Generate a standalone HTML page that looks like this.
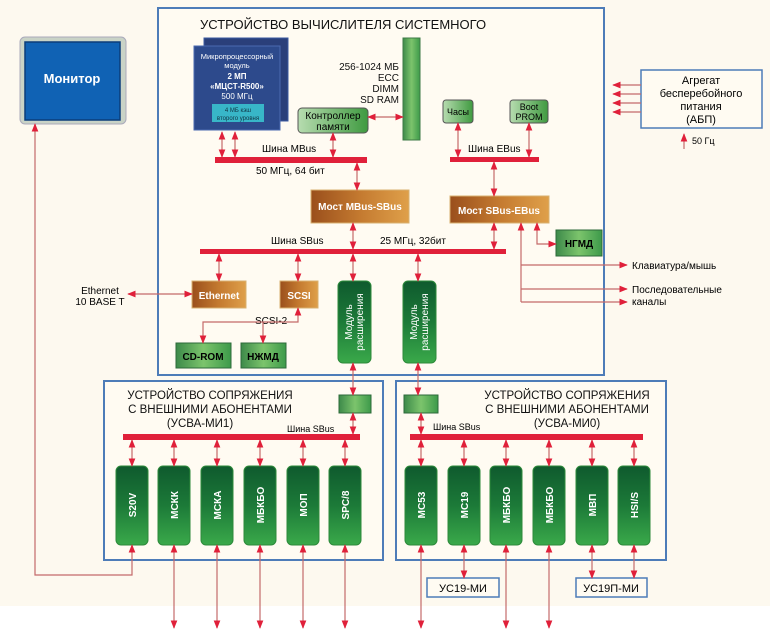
<!DOCTYPE html>
<html><head><meta charset="utf-8"><style>
html,body{margin:0;padding:0;background:#fdf9ef;}
svg{display:block;font-family:"Liberation Sans","DejaVu Sans",sans-serif;}
</style></head><body>
<svg width="770" height="630" viewBox="0 0 770 630" xmlns="http://www.w3.org/2000/svg">
<defs>
<marker id="a" viewBox="0 0 10 10" refX="9" refY="5" markerWidth="7" markerHeight="7" orient="auto-start-reverse"><path d="M0,1 L10,5 L0,9 Z" fill="#e0203a"/></marker>
<linearGradient id="g" x1="0" y1="0" x2="0" y2="1"><stop offset="0" stop-color="#0f5a2e"/><stop offset="0.5" stop-color="#1c7a38"/><stop offset="1" stop-color="#3aa94a"/></linearGradient>
<linearGradient id="lg" x1="0" y1="0" x2="1" y2="0"><stop offset="0" stop-color="#3d8a4a"/><stop offset="0.5" stop-color="#7cc46c"/><stop offset="1" stop-color="#3d9a4a"/></linearGradient>
<linearGradient id="lg2" x1="0" y1="0" x2="1" y2="0"><stop offset="0" stop-color="#b7dcb0"/><stop offset="1" stop-color="#3f9a40"/></linearGradient>
<linearGradient id="br" x1="0" y1="0" x2="1" y2="0"><stop offset="0" stop-color="#9a4f1c"/><stop offset="0.5" stop-color="#c47a30"/><stop offset="1" stop-color="#dfa04a"/></linearGradient>
</defs>
<rect x="0" y="606" width="770" height="24" fill="#ffffff"/>
<rect x="158" y="8" width="446" height="367" fill="#fffbf2" stroke="#4d7cb8" stroke-width="2"/>
<rect x="104" y="381" width="279" height="179" fill="#fffbf2" stroke="#4d7cb8" stroke-width="2"/>
<rect x="396" y="381" width="270" height="179" fill="#fffbf2" stroke="#4d7cb8" stroke-width="2"/>
<!-- monitor -->
<rect x="20" y="37" width="106" height="87" rx="5" fill="#c9d3c6" stroke="#aab"/>
<rect x="25" y="42" width="95" height="78" fill="#1062b4" stroke="#0a3d7a" stroke-width="1.5"/>
<text x="72" y="83" fill="#fff" font-size="13" font-weight="bold" text-anchor="middle">Монитор</text>
<text x="200" y="29" font-size="13" fill="#111">УСТРОЙСТВО ВЫЧИСЛИТЕЛЯ СИСТЕМНОГО</text>
<!-- CPU -->
<rect x="204" y="38" width="84" height="83" fill="#2a3f7a" stroke="#3b5aa0"/>
<rect x="194" y="46" width="86" height="84" fill="#2d4a8c" stroke="#4a6ab0"/>
<g fill="#fff" text-anchor="middle" font-size="8">
<text x="237" y="59" font-size="7.5">Микропроцессорный</text>
<text x="237" y="68" font-size="7.5">модуль</text>
<text x="237" y="79" font-weight="bold">2 МП</text>
<text x="237" y="89" font-weight="bold">«МЦСТ-R500»</text>
<text x="237" y="99">500 МГц</text>
</g>
<rect x="212" y="104" width="52" height="18" fill="#38b6c8"/>
<text x="238" y="112" font-size="6" fill="#134" text-anchor="middle">4 МБ кэш</text>
<text x="238" y="120" font-size="6" fill="#134" text-anchor="middle">второго уровня</text>
<!-- memory -->
<rect x="403" y="38" width="17" height="102" fill="url(#lg)" stroke="#3d7a45"/>
<g font-size="10" fill="#111" text-anchor="end"><text x="399" y="70">256-1024 МБ</text><text x="399" y="81">ECC</text><text x="399" y="92">DIMM</text><text x="399" y="103">SD RAM</text></g>
<rect x="298" y="108" width="70" height="25" rx="4" fill="url(#lg2)" stroke="#555"/>
<text x="333" y="119" font-size="10" text-anchor="middle">Контроллер</text><text x="333" y="130" font-size="10" text-anchor="middle">памяти</text>
<rect x="443" y="100" width="30" height="23" rx="3" fill="url(#lg2)" stroke="#555"/>
<text x="458" y="115" font-size="9" text-anchor="middle">Часы</text>
<rect x="510" y="100" width="38" height="23" rx="3" fill="url(#lg2)" stroke="#555"/>
<text x="529" y="110" font-size="9" text-anchor="middle">Boot</text><text x="529" y="120" font-size="9" text-anchor="middle">PROM</text>
<!-- buses -->
<rect x="215" y="157" width="152" height="6" fill="#e0203a"/>
<text x="262" y="152" font-size="10">Шина MBus</text>
<text x="256" y="174" font-size="10">50 МГц, 64 бит</text>
<rect x="450" y="157" width="89" height="5" fill="#e0203a"/>
<text x="468" y="152" font-size="10">Шина EBus</text>
<rect x="200" y="249" width="306" height="5" fill="#e0203a"/>
<text x="271" y="244" font-size="10">Шина SBus</text>
<text x="380" y="244" font-size="10">25 МГц, 32бит</text>
<rect x="311" y="190" width="98" height="33" fill="url(#br)" stroke="#d8b070"/>
<text x="360" y="210" font-size="10" fill="#fff" font-weight="bold" text-anchor="middle">Мост MBus-SBus</text>
<rect x="450" y="196" width="99" height="27" fill="url(#br)" stroke="#d8b070"/>
<text x="499" y="214" font-size="10" fill="#fff" font-weight="bold" text-anchor="middle">Мост SBus-EBus</text>
<rect x="556" y="230" width="46" height="26" fill="url(#lg)" stroke="#2d6a3a"/>
<text x="579" y="247" font-size="10" font-weight="bold" text-anchor="middle">НГМД</text>
<rect x="192" y="281" width="54" height="27" fill="url(#br)" stroke="#d8b070"/>
<text x="219" y="299" font-size="10" fill="#fff" font-weight="bold" text-anchor="middle">Ethernet</text>
<rect x="280" y="281" width="38" height="27" fill="url(#br)" stroke="#d8b070"/>
<text x="299" y="299" font-size="10" fill="#fff" font-weight="bold" text-anchor="middle">SCSI</text>
<rect x="176" y="343" width="55" height="25" fill="url(#lg)" stroke="#2d6a3a"/>
<text x="203" y="360" font-size="10" font-weight="bold" text-anchor="middle">CD-ROM</text>
<rect x="241" y="343" width="45" height="25" fill="url(#lg)" stroke="#2d6a3a"/>
<text x="263" y="360" font-size="10" font-weight="bold" text-anchor="middle">НЖМД</text>
<text x="255" y="324" font-size="10">SCSI-2</text>
<text x="100" y="294" font-size="10" text-anchor="middle">Ethernet</text><text x="100" y="305" font-size="10" text-anchor="middle">10 BASE T</text>
<rect x="338" y="281" width="33" height="82" rx="5" fill="url(#g)" stroke="#2d8a3a"/>
<rect x="403" y="281" width="33" height="82" rx="5" fill="url(#g)" stroke="#2d8a3a"/>
<g font-size="10" fill="#fff" text-anchor="middle">
<text transform="translate(352,322) rotate(-90)">Модуль</text><text transform="translate(363,322) rotate(-90)">расширения</text>
<text transform="translate(417,322) rotate(-90)">Модуль</text><text transform="translate(428,322) rotate(-90)">расширения</text>
</g>
<text x="632" y="269" font-size="10">Клавиатура/мышь</text>
<text x="632" y="293" font-size="10">Последовательные</text><text x="632" y="305" font-size="10">каналы</text>
<rect x="641" y="70" width="121" height="58" fill="#fffbf2" stroke="#4d7cb8" stroke-width="1.5"/>
<g font-size="11" text-anchor="middle"><text x="701" y="84">Агрегат</text><text x="701" y="97">бесперебойного</text><text x="701" y="110">питания</text><text x="701" y="123">(АБП)</text></g>
<text x="692" y="144" font-size="9">50 Гц</text>
<g font-size="11.5" fill="#111" text-anchor="middle"><text x="210" y="399">УСТРОЙСТВО СОПРЯЖЕНИЯ</text><text x="210" y="413">С ВНЕШНИМИ АБОНЕНТАМИ</text><text x="200" y="427">(УСВА-МИ1)</text></g>
<rect x="339" y="395" width="32" height="18" fill="url(#lg)" stroke="#2d6a3a"/>
<text x="287" y="432" font-size="9">Шина SBus</text>
<rect x="123" y="434" width="237" height="6" fill="#e0203a"/>
<g font-size="11.5" fill="#111" text-anchor="middle"><text x="567" y="399">УСТРОЙСТВО СОПРЯЖЕНИЯ</text><text x="567" y="413">С ВНЕШНИМИ АБОНЕНТАМИ</text><text x="567" y="427">(УСВА-МИ0)</text></g>
<rect x="404" y="395" width="34" height="18" fill="url(#lg)" stroke="#2d6a3a"/>
<text x="433" y="430" font-size="9">Шина SBus</text>
<rect x="410" y="434" width="233" height="6" fill="#e0203a"/>
<g font-size="10" fill="#fff" font-weight="bold" text-anchor="middle">
<rect x="116" y="466" width="32" height="79" rx="5" fill="url(#g)" stroke="#2d8a3a"/><text transform="translate(136,505) rotate(-90)">S20V</text>
<rect x="158" y="466" width="32" height="79" rx="5" fill="url(#g)" stroke="#2d8a3a"/><text transform="translate(178,505) rotate(-90)">МСКК</text>
<rect x="201" y="466" width="32" height="79" rx="5" fill="url(#g)" stroke="#2d8a3a"/><text transform="translate(221,505) rotate(-90)">МСКА</text>
<rect x="244" y="466" width="32" height="79" rx="5" fill="url(#g)" stroke="#2d8a3a"/><text transform="translate(264,505) rotate(-90)">МБКБО</text>
<rect x="287" y="466" width="32" height="79" rx="5" fill="url(#g)" stroke="#2d8a3a"/><text transform="translate(307,505) rotate(-90)">МОП</text>
<rect x="329" y="466" width="32" height="79" rx="5" fill="url(#g)" stroke="#2d8a3a"/><text transform="translate(349,505) rotate(-90)">SPC/8</text>
<rect x="405" y="466" width="32" height="79" rx="5" fill="url(#g)" stroke="#2d8a3a"/><text transform="translate(425,505) rotate(-90)">МС53</text>
<rect x="448" y="466" width="32" height="79" rx="5" fill="url(#g)" stroke="#2d8a3a"/><text transform="translate(468,505) rotate(-90)">МС19</text>
<rect x="490" y="466" width="32" height="79" rx="5" fill="url(#g)" stroke="#2d8a3a"/><text transform="translate(510,505) rotate(-90)">МБКБО</text>
<rect x="533" y="466" width="32" height="79" rx="5" fill="url(#g)" stroke="#2d8a3a"/><text transform="translate(553,505) rotate(-90)">МБКБО</text>
<rect x="576" y="466" width="32" height="79" rx="5" fill="url(#g)" stroke="#2d8a3a"/><text transform="translate(596,505) rotate(-90)">МВП</text>
<rect x="618" y="466" width="32" height="79" rx="5" fill="url(#g)" stroke="#2d8a3a"/><text transform="translate(638,505) rotate(-90)">HSI/S</text>
</g>
<rect x="427" y="578" width="72" height="19" fill="#fffbf2" stroke="#4d7cb8" stroke-width="1.5"/>
<text x="463" y="592" font-size="11" text-anchor="middle">УС19-МИ</text>
<rect x="576" y="578" width="71" height="19" fill="#fffbf2" stroke="#4d7cb8" stroke-width="1.5"/>
<text x="611" y="592" font-size="11" text-anchor="middle">УС19П-МИ</text>
<!-- bidirectional connectors -->
<g stroke="#c46a6a" stroke-width="1.2" fill="none" marker-start="url(#a)" marker-end="url(#a)">
<path d="M222,132V157"/><path d="M235,132V157"/><path d="M333,133V157"/><path d="M357,163V190"/>
<path d="M458,123V157"/><path d="M529,123V157"/><path d="M494,162V196"/><path d="M368,117H403"/>
<path d="M353,223V249"/><path d="M353,254V281"/><path d="M494,223V249"/><path d="M219,254V281"/>
<path d="M298,254V281"/><path d="M353,363V395"/><path d="M418,254V281"/><path d="M418,363V395"/>
<path d="M353,413V434"/><path d="M421,413V434"/>
<path d="M132,440V466"/><path d="M174,440V466"/><path d="M217,440V466"/><path d="M260,440V466"/><path d="M303,440V466"/><path d="M345,440V466"/>
<path d="M421,440V466"/><path d="M464,440V466"/><path d="M506,440V466"/><path d="M549,440V466"/><path d="M592,440V466"/><path d="M634,440V466"/>
<path d="M128,294H192"/>
<path d="M174,545V628"/><path d="M217,545V628"/><path d="M260,545V628"/><path d="M303,545V628"/><path d="M345,545V628"/>
<path d="M421,545V628"/><path d="M506,545V628"/><path d="M549,545V628"/>
<path d="M464,545V578"/><path d="M592,545V578"/><path d="M634,545V578"/>
<path d="M537,223V244H556"/>
<path d="M298,308V322H203V343"/>
<path d="M132,545V575H35V124"/>
</g>
<g stroke="#c46a6a" stroke-width="1.2" fill="none">
<path d="M521,223V302" marker-start="url(#a)"/>
<path d="M521,265H627" marker-end="url(#a)"/><path d="M521,289H627" marker-end="url(#a)"/><path d="M521,302H627" marker-end="url(#a)"/>
<path d="M263,322V343" marker-end="url(#a)"/>
<path d="M641,85H613" marker-end="url(#a)"/><path d="M641,94H613" marker-end="url(#a)"/><path d="M641,103H613" marker-end="url(#a)"/><path d="M641,112H613" marker-end="url(#a)"/>
<path d="M684,149V134" marker-end="url(#a)"/>
</g>
</svg>
</body></html>
